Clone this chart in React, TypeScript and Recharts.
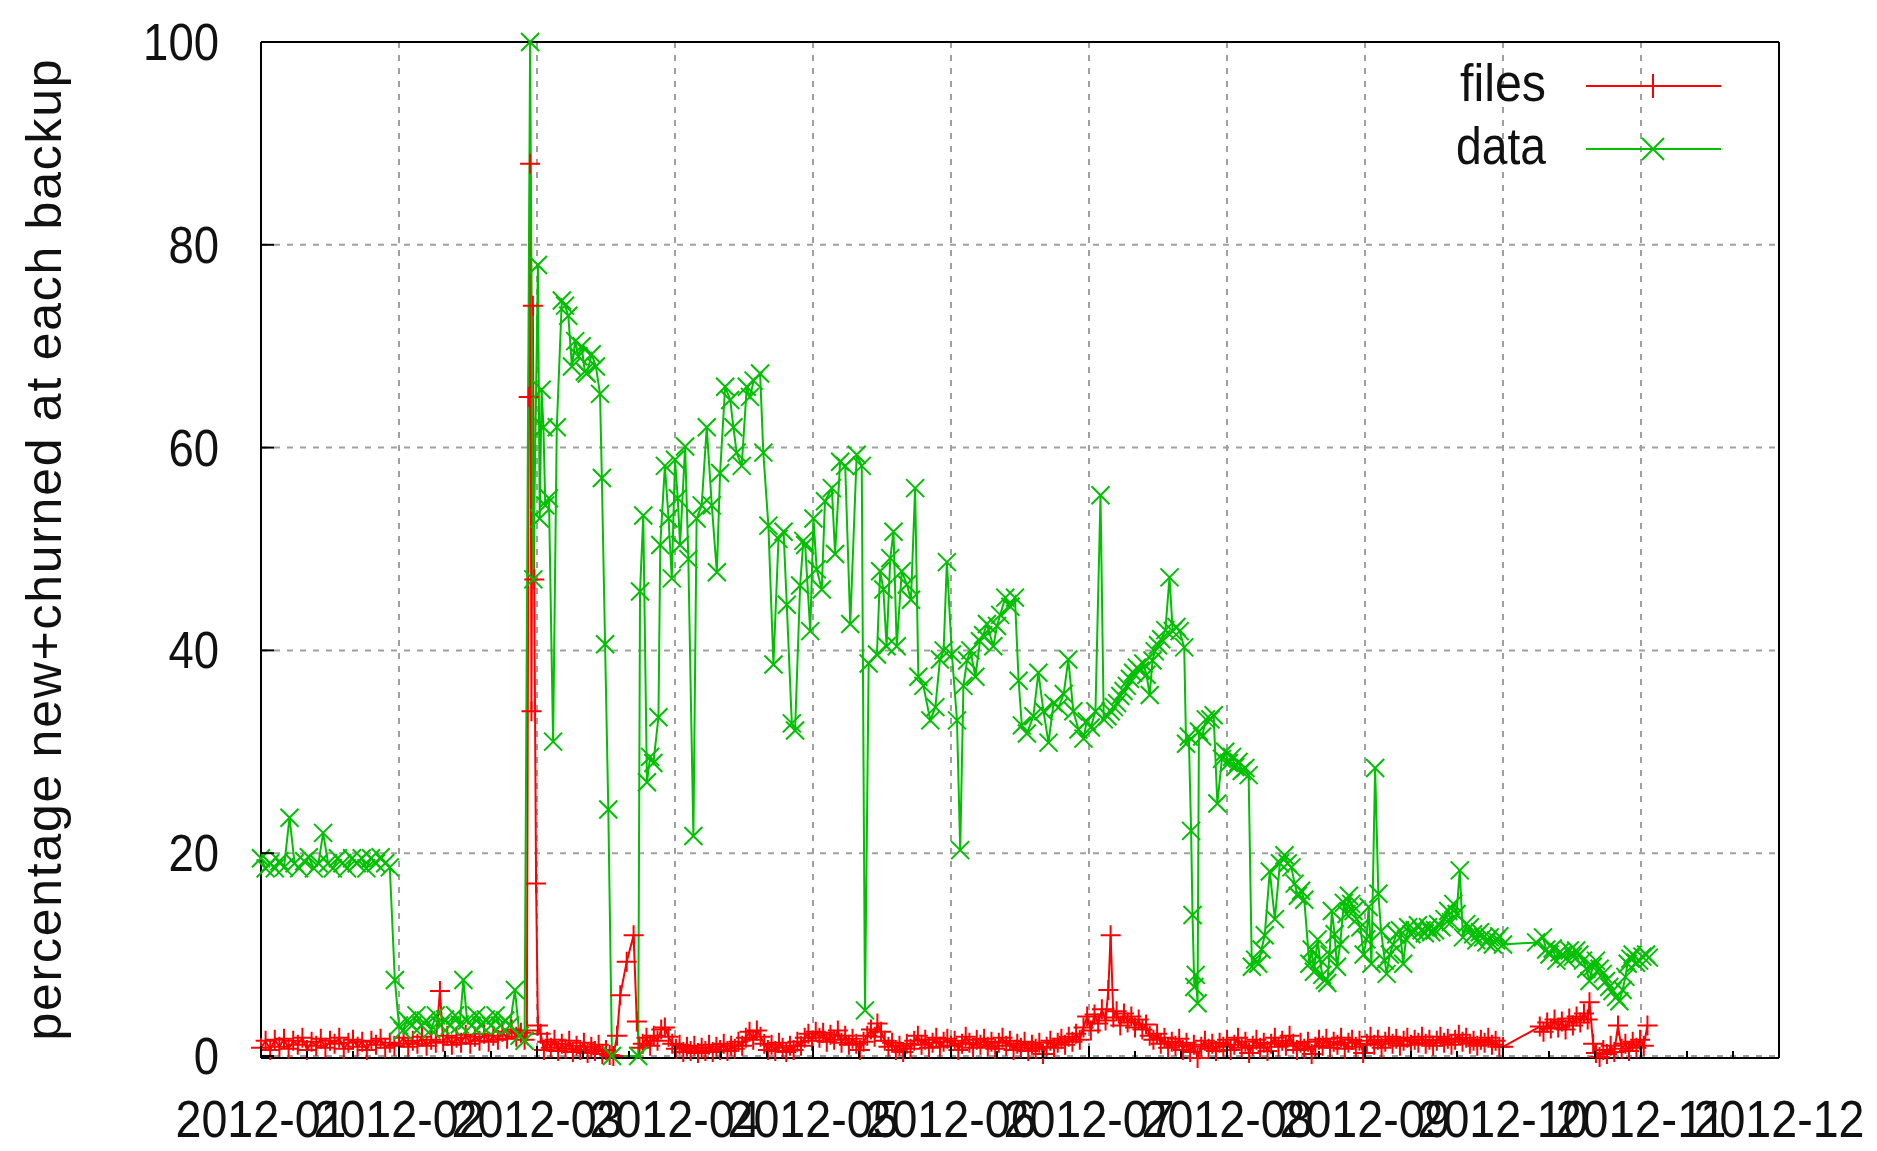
import { LineChart, Line, XAxis, YAxis, CartesianGrid, Legend } from 'recharts'

/* ── data (x = days since 2012-01-01, y = percent) ───────── */

const monthLabels = ['2012-01', '2012-02', '2012-03', '2012-04', '2012-05', '2012-06', '2012-07', '2012-08', '2012-09', '2012-10', '2012-11', '2012-12']
const majorDays = [0, 30, 60, 90, 120, 150, 180, 210, 240, 270, 300, 330]
const tickDays = [0, 10, 20, 30, 40, 50, 60, 70, 80, 90, 100, 110, 120, 130, 140, 150, 160, 170, 180, 190, 200, 210, 220, 230, 240, 250, 260, 270, 280, 290, 300, 310, 320, 330]
const pctTicks = [0, 20, 40, 60, 80, 100]
const seriesOrder = ['files', 'data']

const files: [number, number][] = [
  [0, 0.8], [1, 1.5], [2, 0.6], [3, 1.6], [4, 0.9], [5, 1.7], [6, 0.7], [7, 1.5], [8, 1.1], [9, 1.8], [10, 0.6], [11, 1.4], [12, 1.0], [13, 1.7], [14, 0.8], [15, 1.5], [16, 1.2], [17, 1.8], [18, 0.7], [19, 1.3], [20, 1.6], [21, 0.9], [22, 1.4], [23, 0.6], [24, 1.5], [25, 1.1], [26, 1.7], [27, 0.8], [28, 1.3], [29, 1.0],
  [30, 1.2], [31, 1.8], [32, 0.9], [33, 1.5], [34, 1.2], [35, 1.9], [36, 1.0], [37, 1.6], [38, 1.3], [38.9, 6.4], [39.6, 1.4], [40.5, 2.0], [41.5, 1.1], [42.5, 1.8], [43.5, 1.3], [44.5, 2.1], [45.5, 1.2], [46.5, 1.9], [47.5, 1.5], [48.5, 2.2], [49.5, 1.4], [50.5, 2.0], [51.5, 1.6], [52.5, 2.4], [53.5, 1.7], [54.5, 2.6], [55.5, 1.9], [56.5, 2.3], [57.3, 1.6],
  [57.8, 2.5], [58.2, 65], [58.5, 88], [58.8, 34], [59.1, 74], [59.4, 47], [59.8, 17], [60.2, 3],
  [60.8, 2.2], [61.5, 0.6], [62.2, 1.4], [63, 0.8], [63.8, 1.6], [64.6, 0.5], [65.4, 1.2], [66.2, 0.7], [67, 1.5], [67.8, 0.4], [68.6, 1.0], [69.4, 0.6], [70.2, 1.3], [71, 0.3], [71.8, 0.9], [72.6, 0.5], [73.4, 1.1], [74.2, 0.2], [75, 0.6], [75.8, 0.1], [76.6, 0],
  [77.4, 2], [78.1, 6], [79.5, 9.3], [81, 11.9], [81.7, 3.4], [82.3, 0.8],
  [83, 1.2], [83.8, 1.8], [84.6, 1.0], [85.4, 2.0], [86.2, 1.5], [87, 2.6], [87.8, 2.8], [88.6, 1.9], [89.4, 1.2], [90.2, 0.7], [91, 1.1], [91.8, 0.4], [92.6, 0.9], [93.4, 0.5], [94.2, 1.0], [95, 0.3], [95.8, 0.8], [96.6, 0.5], [97.4, 1.1], [98.2, 0.4], [99, 0.9], [99.8, 0.6], [100.6, 1.2], [101.4, 0.5], [102.2, 1.0], [103, 0.7], [103.8, 1.4], [104.6, 1.0], [105.4, 1.8], [106.2, 2.4], [107, 1.6], [107.8, 2.5], [108.6, 1.9], [109.4, 1.2], [110.2, 0.6], [111, 1.1], [111.8, 0.5], [112.6, 1.3], [113.4, 0.8], [114.2, 0.4], [115, 1.0], [115.8, 0.6], [116.6, 1.4], [117.4, 1.0], [118.2, 1.8], [119, 2.2], [119.8, 1.5], [120.6, 2.4],
  [121.4, 1.8], [122.2, 2.3], [123, 1.4], [123.8, 2.1], [124.6, 1.6], [125.4, 2.5], [126.2, 1.3], [127, 2.0], [127.8, 1.1], [128.6, 1.7], [129.4, 1.2], [130.2, 0.6], [131, 1.4], [131.8, 2.0], [132.6, 2.6], [133.4, 1.9], [134, 3.2], [134.8, 2.4], [135.6, 1.5], [136.4, 0.9],
  [137.2, 1.3], [138, 0.6], [138.8, 1.0], [139.6, 0.4], [140.4, 1.2], [141.2, 0.7], [142, 1.5], [142.8, 2.0], [143.6, 1.1], [144.4, 1.6], [145.2, 0.8], [146, 1.3], [146.8, 1.8], [147.6, 0.9], [148.4, 1.4], [149.2, 1.7], [150, 1.0], [150.8, 1.5], [151.6, 0.6], [152.4, 1.2], [153.2, 1.9], [154, 1.3], [154.8, 0.8], [155.6, 1.6], [156.4, 1.1], [157.2, 1.7], [158, 0.9], [158.8, 1.4], [159.6, 0.7], [160.4, 1.3], [161.2, 1.8], [162, 1.0], [162.8, 1.5], [163.6, 0.6], [164.4, 1.2], [165.2, 0.8], [166, 1.4], [166.8, 0.5], [167.6, 1.1], [168.4, 0.7], [169.2, 1.3], [170, 0.2], [170.8, 0.9], [171.6, 1.5], [172.4, 0.8], [173.2, 1.3], [174, 1.7], [174.8, 1.1], [175.6, 1.9], [176.4, 1.4],
  [177.2, 2.2], [178, 1.6], [178.8, 2.8], [179.6, 3.9], [180.4, 2.5], [181.2, 4.1], [182, 3.2], [182.8, 4.6], [183.6, 3.5], [184.2, 6.5], [184.7, 11.9], [185.3, 3.8], [186, 4.4], [186.8, 3.0], [187.6, 4.2], [188.4, 3.3], [189.2, 3.9], [190, 2.8], [190.8, 3.6], [191.6, 2.6], [192.4, 3.1], [193.2, 2.0],
  [194, 1.6], [194.8, 2.2], [195.6, 1.2], [196.4, 1.8], [197.2, 0.8], [198, 1.4], [198.8, 1.0], [199.6, 1.7], [200.4, 0.6], [201.2, 1.3], [202, 0.4], [202.8, 1.1], [203.6, -0.2], [204.4, 0.9], [205.2, 1.5], [206, 0.7], [206.8, 1.2], [207.6, 0.5], [208.4, 1.3], [209.2, 0.9], [210, 1.6], [210.8, 0.6], [211.6, 1.1], [212.4, 1.8], [213.2, 0.8], [214, 1.4], [214.8, 0.3], [215.6, 1.0], [216.4, 1.6], [217.2, 0.8], [218, 1.3], [218.8, 0.5], [219.6, 1.2], [220.4, 1.8], [221.2, 0.9], [222, 1.5], [222.8, 1.0], [223.6, 2.0], [224.4, 1.2], [225.2, 0.6], [226, 1.3], [226.8, 0.7], [227.6, 1.4], [228.4, 0.2], [229.2, 0.9], [230, 1.6], [230.8, 1.0], [231.6, 1.7], [232.4, 0.8], [233.2, 1.4], [234, 1.1], [234.8, 1.8], [235.6, 0.7], [236.4, 1.3], [237.2, 1.6], [238, 0.9], [238.8, 1.5], [239.6, 0.3], [240.4, 1.2], [241.2, 1.9], [242, 1.1], [242.8, 1.6], [243.6, 0.8], [244.4, 1.4], [245.2, 1.9], [246, 1.2], [246.8, 1.7], [247.6, 1.0], [248.4, 1.5], [249.2, 1.8], [250, 1.1], [250.8, 1.6], [251.6, 1.3], [252.4, 1.9], [253.2, 1.2], [254, 1.6], [254.8, 1.0], [255.6, 1.5], [256.4, 1.9], [257.2, 1.3], [258, 1.7], [258.8, 1.1], [259.6, 1.6], [260.4, 2.1], [261.2, 1.4], [262, 1.8], [262.8, 1.2], [263.6, 1.5], [264.4, 1.0], [265.2, 1.6], [266, 1.3], [266.8, 1.8], [267.6, 1.1], [268.4, 1.5], [269.2, 0.9], [270, 0.9],
  [278, 2.9], [278.8, 2.4], [279.6, 3.3], [280.4, 2.7], [281.2, 3.6], [282, 2.8], [282.8, 3.4], [283.6, 2.6], [284.4, 3.7], [285.2, 3.0], [286, 3.9], [286.8, 3.3], [287.6, 4.2], [288.4, 3.6], [288.8, 5.3], [289.6, 1.2], [290.2, 0.3], [291, -0.1], [291.8, 0.6], [292.6, 0.2], [293.4, 1.0], [294.2, 0.4], [295, 3.0], [295.8, 0.7], [296.6, 1.2], [297.4, 0.5], [298.2, 1.4], [299, 0.8], [299.8, 1.6], [300.6, 1.0], [301.4, 3.0],
]

const data: [number, number][] = [
  [0, 19.5], [1, 18.5], [2, 19], [3, 18.5], [4, 19.2], [5, 18.6], [6.2, 23.5], [7.3, 19], [8.3, 18.5], [9.4, 19.2], [10.4, 19.6], [11.5, 18.5], [12.5, 19], [13.5, 22], [14.6, 19], [15.6, 18.5], [16.7, 19.5], [17.7, 19], [18.7, 18.5], [19.8, 19.5], [20.8, 19], [21.9, 19.5], [22.9, 18.5], [23.9, 19.5], [25, 19], [26, 19.6], [27, 19], [28, 18.6], [29.1, 7.5],
  [30, 3], [30.8, 2.5], [31.8, 3.5], [32.8, 3], [33.8, 4], [34.9, 3], [35.9, 3.5], [37, 2.6], [38, 4], [39, 3], [40, 3.6], [41.1, 3], [42.2, 4], [43.2, 3.1], [44, 7.5], [44.8, 3.5], [45.8, 3], [46.8, 4], [47.9, 3], [48.9, 3.6], [50, 3], [51, 4], [52, 3], [53.1, 3.5], [54.1, 3], [55.2, 6.5], [56.2, 2], [57.3, 1.5],
  [58.5, 100], [59.2, 47], [60.2, 78], [60.6, 53], [61, 65.7], [61.4, 62], [61.8, 54.3], [62.6, 55], [63.5, 31], [64.3, 62], [65.4, 74.5], [66.1, 74], [66.8, 73], [67.6, 68], [68.3, 70.5], [69, 69], [69.7, 70], [70.4, 67.5], [70.8, 67.3], [71.9, 69.2], [72.8, 68], [73.7, 65.3], [74.1, 57], [74.8, 40.6], [75.5, 24.3], [76.3, 0], [82, 0],
  [82.4, 45.8], [83.1, 53.3], [83.9, 27], [84.6, 29.5], [85.3, 28.9], [86.4, 33.4], [86.8, 50.4], [87.8, 58.2], [88.6, 53], [89.3, 47.1], [90, 58.8], [90.6, 55], [91.1, 50.4], [92.2, 60.1], [92.9, 49], [94, 21.7], [94.7, 53], [95.8, 54.3], [96.9, 62], [98, 54.3], [99.1, 47.7], [99.8, 57.5], [100.9, 66], [102, 64.7], [102.7, 62], [103.4, 59.5], [104.5, 58.2], [105.6, 66], [106.3, 65], [107.1, 66.6], [108.5, 67.3], [109.2, 59.5], [110.3, 52.3], [111.4, 38.6], [112.5, 51], [113.6, 51.7], [114.3, 44.5], [115.4, 32.8], [116.1, 32.1], [117.2, 46.4], [117.9, 50.8], [118.3, 50.4], [119.4, 41.9], [120.1, 53], [120.8, 48], [121.9, 46], [122.6, 54.7], [124.1, 56], [124.8, 49.5], [125.9, 58.6], [127, 58.2], [128.1, 42.6], [129.5, 59.3], [130.6, 58.2], [131.3, 4.5],
  [132.1, 38.7], [133.9, 39.6], [134.6, 47.8], [135.3, 46], [136, 40.4], [136.8, 49.1], [137.5, 51.7], [138.2, 40.4], [139.3, 47.8], [140.4, 46.5], [141.3, 45], [142.2, 56], [142.9, 37.4], [144, 36.5], [145.5, 33.1], [146.6, 34.4], [147.6, 39.1], [148.4, 40], [149.1, 48.7], [150.2, 39.6], [151.3, 33.1], [152, 20.3], [152.7, 36.5], [153.5, 39], [154.2, 40], [155.3, 37.4], [156.3, 40.9], [157, 41.5], [157.8, 42.6], [159.2, 40.4], [160, 42.4], [160.7, 43.5], [161.8, 45.2], [162.9, 44.3], [163.9, 45.2], [164.7, 37], [165.4, 32.6], [166.5, 31.8], [167.9, 33.5], [169, 37.8], [170.1, 34], [171.2, 30.9], [172.3, 34.8], [173.4, 34.4], [174.5, 35.7], [175.5, 39.1], [176.6, 34], [177.7, 32.2], [178.8, 31.3], [179.5, 33], [180.4, 32.4], [181.4, 34],
  [182.5, 55.3], [183.2, 33.2], [184, 33.5], [184.7, 34], [185.4, 34.4], [186.1, 34.8], [186.8, 35.5], [187.5, 36], [188.2, 36.5], [188.9, 37.2], [189.6, 37.8], [190.4, 38.3], [191.1, 38], [191.8, 38.7], [192.5, 37.6], [193.2, 35.6], [193.8, 39], [194.3, 39.9], [195, 40.5], [195.7, 41.1], [196.6, 42], [197.5, 47.2], [198.2, 41.9], [199, 42.3], [199.7, 41.9], [200.7, 40.3], [201.1, 30.8], [201.7, 31.5], [202.2, 22.2], [202.5, 13.9], [202.9, 6.8], [203.2, 8], [203.6, 5.2], [203.9, 32], [204.6, 31.5], [205.4, 33.2], [206.4, 33.2], [207.1, 33.6], [207.9, 24.9], [208.9, 29.3], [209.6, 30], [210.4, 28.9], [211.1, 29.5], [211.8, 28.5], [212.5, 29], [213.2, 28.1], [214, 28.4], [214.7, 27.7],
  [215.4, 8.8], [216.1, 9.5], [216.8, 9.1], [217.5, 10.5], [218.2, 11.9], [219.3, 18.2], [220.4, 13.5], [221.5, 19], [222.5, 19.8], [223.2, 19], [224, 18.6], [224.7, 17], [225.4, 15.8], [226.1, 16.3], [226.8, 15.4], [227.9, 9.1], [228.4, 10.5], [228.9, 8.3], [229.7, 11.5], [230.2, 9.5], [230.7, 8], [231.3, 7.5], [231.8, 7.2], [232.3, 10], [232.8, 14.3], [233.4, 12], [233.9, 8.8], [234.6, 11], [235.4, 15.1], [236, 14], [236.5, 15.8], [237, 15], [237.5, 14.3], [238.2, 13.5], [239, 12.7], [239.7, 10], [240.3, 11.5], [240.8, 14.7], [241.4, 9.1], [242.2, 28.4], [242.9, 16], [243.5, 12.3], [244.3, 9.4], [244.7, 8.1], [245.4, 10], [246.1, 11], [246.8, 12], [247.6, 12.4], [248.3, 9.1], [248.9, 11.5], [249.4, 12.7],
  [250.1, 12], [250.8, 12.4], [251.5, 12.9], [252.3, 12.4], [253, 12.1], [253.7, 12.7], [254.4, 12.2], [255.2, 12.4], [255.9, 13], [256.6, 12.7], [257.3, 13.5], [258.1, 14.3], [258.7, 13.2], [259.2, 15], [259.9, 14], [260.6, 18.3], [261.3, 11.7], [262, 13], [262.8, 12.7], [263.5, 12], [264.2, 11.4], [265, 12.2], [265.7, 11.7], [266.4, 11.2], [267.1, 11.7], [267.8, 11], [268.5, 11.4], [269.2, 11.8], [270, 11],
  [277.2, 11.2], [278.7, 11.7], [279.4, 10.5], [280.1, 10], [280.8, 10.6], [281.6, 9.4], [282.3, 10.2], [283, 10], [283.7, 9.6], [284.5, 10.4], [285.2, 9.8], [285.9, 10.4], [286.6, 10], [287.4, 9.4], [288.1, 8.6], [288.8, 7.4], [289.5, 8.8], [290.2, 9.4], [291, 8.6], [291.7, 8.1], [292.4, 7.4], [293.1, 6.8], [293.8, 6.4], [294.6, 5.8], [295.3, 5.4], [296, 6.5], [296.6, 7.8], [297.1, 9.1], [297.7, 9.6], [298.2, 10], [298.9, 9.2], [299.6, 9.4], [300.3, 9.8], [301.1, 10], [301.7, 9.7],
]

const filesRows = files.map(([d, v]) => ({ d, v }))
const dataRows = data.map(([d, v]) => ({ d, v }))

/* ── look ─────────────────────────────────────────────────── */

const FONT = '"Liberation Sans", Arial, sans-serif'
const RED = '#ff0000'
const GREEN = '#00c000'
const TEXT = '#111'

function plusPath(cx: number, cy: number, r: number) {
  return `M${cx - r},${cy}H${cx + r}M${cx},${cy - r}V${cy + r}`
}

function crossPath(cx: number, cy: number, r: number) {
  return `M${cx - r},${cy - r}L${cx + r},${cy + r}M${cx - r},${cy + r}L${cx + r},${cy - r}`
}

const PlusDot = (props: any) => {
  const { cx, cy, index } = props
  if (cx == null || cy == null) return <g key={`p-${index}`} />
  return <path key={`p-${index}`} d={plusPath(cx, cy, 10)} stroke={RED} strokeWidth={2} fill="none" />
}

const CrossDot = (props: any) => {
  const { cx, cy, index } = props
  if (cx == null || cy == null) return <g key={`x-${index}`} />
  return <path key={`x-${index}`} d={crossPath(cx, cy, 9)} stroke={GREEN} strokeWidth={2} fill="none" />
}

/* axis ticks are drawn inward, gnuplot style */

const BottomTick = (props: any) => {
  const { x, y, payload } = props
  const i = majorDays.indexOf(payload.value)
  const major = i >= 0
  return (
    <g>
      <line x1={x} x2={x} y1={y} y2={y - (major ? 12 : 7)} stroke="#000" strokeWidth={2} />
      {major ? (
        <text x={x} y={y + 79} textAnchor="middle" fontSize={51} fontFamily={FONT} fill={TEXT}
          textLength={171} lengthAdjust="spacingAndGlyphs">
          {monthLabels[i]}
        </text>
      ) : null}
    </g>
  )
}

const TopTick = (props: any) => {
  const { x, y, payload } = props
  const major = majorDays.includes(payload.value)
  return <line x1={x} x2={x} y1={y} y2={y + (major ? 12 : 7)} stroke="#000" strokeWidth={2} />
}

const LeftTick = (props: any) => {
  const { x, y, payload } = props
  const label = String(payload.value)
  return (
    <g>
      <line x1={x} x2={x + 13} y1={y} y2={y} stroke="#000" strokeWidth={2} />
      <text x={x - 42} y={y + 18} textAnchor="end" fontSize={51} fontFamily={FONT} fill={TEXT}
        textLength={label.length * 25.3} lengthAdjust="spacingAndGlyphs">
        {label}
      </text>
    </g>
  )
}

const RightTick = (props: any) => {
  const { x, y } = props
  return <line x1={x - 13} x2={x} y1={y} y2={y} stroke="#000" strokeWidth={2} />
}

const YTitle = (props: any) => {
  const { viewBox } = props
  const cx = viewBox.x - 120
  const cy = viewBox.y + viewBox.height / 2
  return (
    <text x={cx} y={cy} transform={`rotate(-90, ${cx}, ${cy})`} textAnchor="middle" fontSize={50}
      fontFamily={FONT} fill={TEXT} textLength={981} lengthAdjust="spacing">
      percentage new+churned at each backup
    </text>
  )
}

const KeyBox = (props: any) => {
  const { payload = [] } = props
  const entries = seriesOrder
    .map((name) => payload.find((p: any) => p.value === name))
    .filter(Boolean)
  return (
    <svg width={1877} height={200} style={{ display: 'block', overflow: 'visible' }}>
      {entries.map((entry: any, i: number) => {
        const y = 86 + i * 63
        const isFiles = entry.value === 'files'
        return (
          <g key={entry.value}>
            <text x={1546} y={y + 15} textAnchor="end" fontSize={51} fontFamily={FONT} fill={TEXT}
              textLength={isFiles ? 86 : 90} lengthAdjust="spacingAndGlyphs">
              {entry.value}
            </text>
            <line x1={1586} x2={1721} y1={y} y2={y} stroke={entry.color} strokeWidth={2} />
            <path d={isFiles ? plusPath(1653, y, 12) : crossPath(1653, y, 11)} stroke={entry.color} strokeWidth={2} fill="none" />
          </g>
        )
      })}
    </svg>
  )
}

export default function App() {
  return (
    <div style={{ position: 'absolute', left: 0, top: 0, width: 1877, height: 1151, background: '#fff' }}>
      <LineChart width={1877} height={1151} margin={{ top: 41, right: 97, bottom: 33, left: 181 }}>
        <CartesianGrid stroke="#a0a0a0" strokeWidth={2} strokeDasharray="6 7" verticalValues={majorDays} horizontalValues={pctTicks} />
        <XAxis xAxisId={0} dataKey="d" type="number" domain={[0, 330]} ticks={tickDays} interval={0}
          height={60} tickSize={0} tickMargin={0} tickLine={false} tick={<BottomTick />}
          axisLine={{ stroke: '#000', strokeWidth: 2 }} />
        <XAxis xAxisId="top" orientation="top" dataKey="d" type="number" domain={[0, 330]} ticks={tickDays} interval={0}
          height={1} tickSize={0} tickMargin={0} tickLine={false} tick={<TopTick />}
          axisLine={{ stroke: '#000', strokeWidth: 2 }} />
        <YAxis yAxisId={0} type="number" domain={[0, 100]} ticks={pctTicks} interval={0} width={80}
          tickSize={0} tickMargin={0} tickLine={false} tick={<LeftTick />}
          axisLine={{ stroke: '#000', strokeWidth: 2 }} label={<YTitle />} />
        <YAxis yAxisId="right" orientation="right" type="number" domain={[0, 100]} ticks={pctTicks} interval={0} width={1}
          tickSize={0} tickMargin={0} tickLine={false} tick={<RightTick />}
          axisLine={{ stroke: '#000', strokeWidth: 2 }} />
        <Legend layout="horizontal" verticalAlign="middle" align="center" content={<KeyBox />}
          wrapperStyle={{ left: 0, top: 0, width: 1877, height: 200, pointerEvents: 'none' }} />
        <Line data={filesRows} dataKey="v" name="files" type="linear" stroke={RED} strokeWidth={2}
          dot={PlusDot} activeDot={false} isAnimationActive={false} />
        <Line data={dataRows} dataKey="v" name="data" type="linear" stroke={GREEN} strokeWidth={2}
          dot={CrossDot} activeDot={false} isAnimationActive={false} />
      </LineChart>
    </div>
  )
}
